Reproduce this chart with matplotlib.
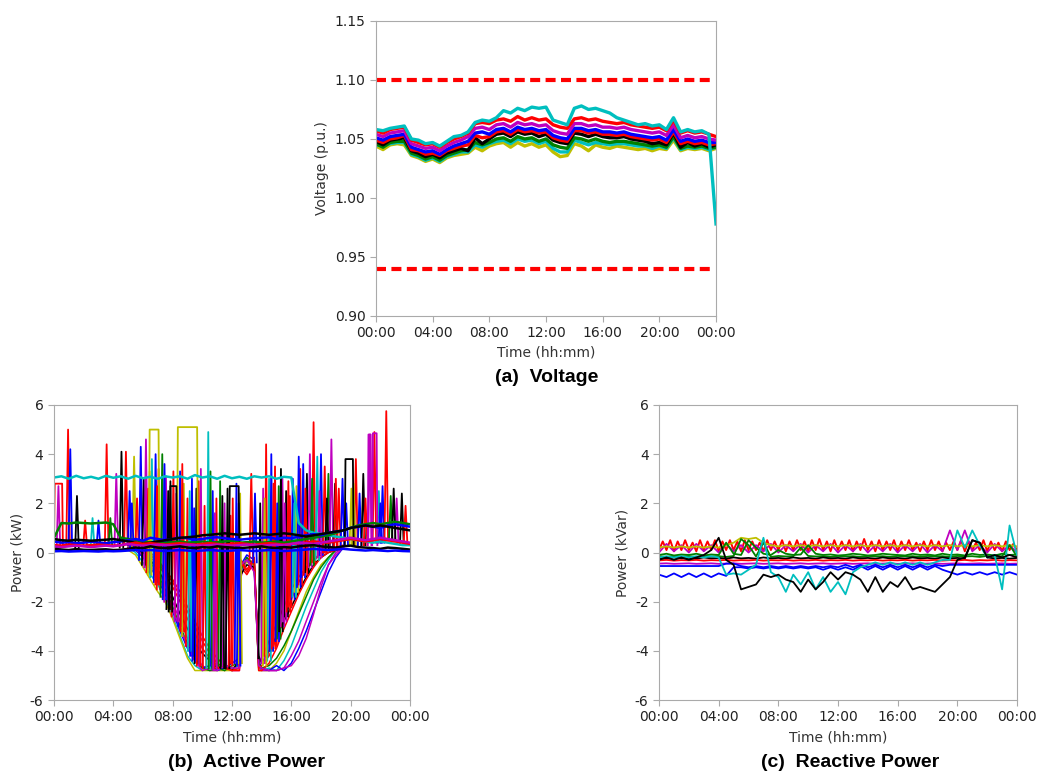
import numpy as np
import matplotlib
matplotlib.use('Agg')
import matplotlib.pyplot as plt
from matplotlib.ticker import FormatStrFormatter

# ---- common time axis ----
tick_hours = [0, 4, 8, 12, 16, 20, 24]
tick_labels = ['00:00', '04:00', '08:00', '12:00', '16:00', '20:00', '00:00']
half_hours = np.arange(0, 24.01, 0.5)      # 49 points
quarter_hours = np.arange(0, 24.01, 0.25)  # 97 points

# ---- (a) voltage, p.u. ----
v_limits = [1.10, 0.94]
volt_cyan = [1.058, 1.057, 1.059, 1.060, 1.061, 1.050, 1.049, 1.046, 1.047, 1.044, 1.048, 1.052,
             1.053, 1.056, 1.064, 1.066, 1.065, 1.068, 1.074, 1.072, 1.076, 1.074, 1.077, 1.076,
             1.077, 1.066, 1.064, 1.062, 1.076, 1.078, 1.075, 1.076, 1.074, 1.072, 1.068, 1.066,
             1.064, 1.062, 1.063, 1.061, 1.062, 1.058, 1.068, 1.056, 1.058, 1.056, 1.057, 1.054, 0.978]
volt_red = [1.057, 1.055, 1.058, 1.059, 1.060, 1.049, 1.047, 1.045, 1.046, 1.043, 1.047, 1.050,
            1.052, 1.055, 1.063, 1.064, 1.063, 1.066, 1.067, 1.065, 1.069, 1.066, 1.068, 1.066,
            1.067, 1.062, 1.060, 1.059, 1.067, 1.068, 1.066, 1.067, 1.065, 1.064, 1.063, 1.064,
            1.062, 1.061, 1.060, 1.059, 1.060, 1.057, 1.066, 1.055, 1.057, 1.055, 1.056, 1.054, 1.052]
volt_magenta = [1.054, 1.052, 1.055, 1.056, 1.057, 1.046, 1.044, 1.042, 1.043, 1.040, 1.044, 1.047,
                1.049, 1.052, 1.059, 1.060, 1.058, 1.062, 1.063, 1.060, 1.064, 1.062, 1.063, 1.061,
                1.062, 1.057, 1.055, 1.054, 1.063, 1.063, 1.061, 1.062, 1.060, 1.060, 1.059, 1.060,
                1.058, 1.057, 1.056, 1.055, 1.056, 1.053, 1.062, 1.051, 1.053, 1.051, 1.052, 1.050, 1.049]
volt_blue = [1.051, 1.049, 1.052, 1.053, 1.054, 1.043, 1.041, 1.039, 1.040, 1.037, 1.041, 1.044,
             1.046, 1.048, 1.055, 1.056, 1.054, 1.058, 1.059, 1.056, 1.060, 1.058, 1.059, 1.057,
             1.058, 1.053, 1.051, 1.050, 1.059, 1.059, 1.057, 1.058, 1.056, 1.056, 1.055, 1.056,
             1.054, 1.053, 1.052, 1.051, 1.052, 1.049, 1.058, 1.048, 1.050, 1.048, 1.049, 1.047, 1.047]
volt_red_low = [1.049, 1.047, 1.050, 1.051, 1.053, 1.041, 1.040, 1.037, 1.038, 1.036, 1.040, 1.042,
                1.044, 1.045, 1.053, 1.051, 1.052, 1.056, 1.057, 1.054, 1.058, 1.056, 1.057, 1.055,
                1.056, 1.051, 1.049, 1.048, 1.057, 1.057, 1.055, 1.056, 1.054, 1.054, 1.053, 1.054,
                1.052, 1.051, 1.050, 1.049, 1.050, 1.047, 1.056, 1.046, 1.048, 1.046, 1.047, 1.045, 1.046]
volt_black = [1.048, 1.045, 1.049, 1.050, 1.051, 1.040, 1.038, 1.035, 1.037, 1.034, 1.038, 1.040,
              1.042, 1.040, 1.051, 1.046, 1.050, 1.054, 1.055, 1.052, 1.056, 1.054, 1.055, 1.052,
              1.054, 1.049, 1.047, 1.046, 1.055, 1.054, 1.052, 1.054, 1.052, 1.051, 1.051, 1.052,
              1.050, 1.049, 1.048, 1.046, 1.047, 1.045, 1.055, 1.043, 1.047, 1.044, 1.046, 1.043, 1.045]
volt_green = [1.046, 1.043, 1.047, 1.048, 1.048, 1.038, 1.036, 1.033, 1.035, 1.032, 1.036, 1.038,
              1.040, 1.041, 1.047, 1.045, 1.047, 1.050, 1.051, 1.048, 1.052, 1.050, 1.051, 1.048,
              1.050, 1.045, 1.043, 1.042, 1.051, 1.050, 1.048, 1.050, 1.048, 1.047, 1.048, 1.048,
              1.047, 1.046, 1.045, 1.044, 1.045, 1.043, 1.052, 1.042, 1.044, 1.043, 1.044, 1.042, 1.043]
volt_cyan_low = [1.045, 1.044, 1.046, 1.047, 1.047, 1.037, 1.035, 1.032, 1.034, 1.031, 1.035, 1.037,
                 1.039, 1.039, 1.045, 1.043, 1.046, 1.048, 1.049, 1.046, 1.050, 1.048, 1.049, 1.046,
                 1.048, 1.042, 1.039, 1.039, 1.049, 1.047, 1.045, 1.047, 1.046, 1.045, 1.046, 1.046,
                 1.045, 1.044, 1.044, 1.042, 1.044, 1.042, 1.051, 1.041, 1.043, 1.042, 1.043, 1.041, 1.043]
volt_yellow = [1.044, 1.041, 1.045, 1.046, 1.045, 1.036, 1.034, 1.031, 1.033, 1.030, 1.034, 1.036,
               1.037, 1.038, 1.043, 1.040, 1.044, 1.046, 1.047, 1.043, 1.047, 1.044, 1.046, 1.043,
               1.045, 1.039, 1.035, 1.036, 1.046, 1.044, 1.040, 1.045, 1.043, 1.042, 1.044, 1.043,
               1.042, 1.041, 1.042, 1.040, 1.042, 1.041, 1.049, 1.040, 1.042, 1.041, 1.042, 1.040, 1.042]

# ---- (b) active power, kW ----
load_dense = [0.15, 0.12, 0.10, 0.14, 0.11, 0.10, 0.12, 0.13, 0.10, 0.11, 0.15, 0.20, 0.18,
              0.25, 0.20, 0.18, 0.22, 0.25, 0.20, 0.18, 0.22, 0.20, 0.25, 0.22, 0.20, 0.18,
              0.20, 0.22, 0.25, 0.20, 0.18, 0.22, 0.20, 0.25, 0.28, 0.30, 0.25, 0.22, 0.20,
              0.25, 0.28, 0.22, 0.20, 0.18, 0.15, 0.20, 0.18, 0.15, 0.12]
load_low = [0.05, 0.06, 0.04, 0.05, 0.06, 0.05, 0.04, 0.06, 0.05, 0.06, 0.08, 0.10, 0.08,
            0.10, 0.08, 0.06, 0.08, 0.10, 0.08, 0.06, 0.08, 0.10, 0.08, 0.06, 0.08, 0.10,
            0.08, 0.06, 0.08, 0.10, 0.08, 0.06, 0.08, 0.10, 0.12, 0.15, 0.12, 0.10, 0.12,
            0.15, 0.12, 0.10, 0.08, 0.10, 0.08, 0.06, 0.08, 0.06, 0.05]
load_blue = [0.45, 0.40, 0.42, 0.38, 0.40, 0.44, 0.40, 0.38, 0.42, 0.45, 0.50, 0.55, 0.48,
             0.60, 0.55, 0.50, 0.55, 0.60, 0.58, 0.52, 0.55, 0.60, 0.62, 0.58, 0.55, 0.52,
             0.55, 0.58, 0.60, 0.62, 0.55, 0.60, 0.58, 0.65, 0.70, 0.75, 0.70, 0.80, 0.85,
             0.90, 1.00, 1.05, 1.10, 1.05, 1.00, 1.10, 1.15, 1.10, 1.05]
load_green = [0.60, 1.20, 1.18, 1.22, 1.20, 1.18, 1.20, 1.22, 1.15, 0.60, 0.55, 0.50, 0.45,
              0.40, 0.45, 0.40, 0.42, 0.45, 0.40, 0.42, 0.45, 0.40, 0.42, 0.45, 0.48, 0.40,
              0.42, 0.45, 0.40, 0.42, 0.45, 0.40, 0.45, 0.50, 0.55, 0.60, 0.65, 0.70, 0.80,
              0.90, 1.00, 1.10, 1.15, 1.20, 1.15, 1.20, 1.25, 1.20, 1.15]
load_black = [0.55, 0.50, 0.48, 0.52, 0.50, 0.48, 0.50, 0.52, 0.55, 0.50, 0.45, 0.40, 0.35,
              0.40, 0.45, 0.50, 0.55, 0.60, 0.62, 0.65, 0.70, 0.72, 0.75, 0.78, 0.75, 0.72,
              0.75, 0.78, 0.75, 0.72, 0.75, 0.78, 0.75, 0.70, 0.65, 0.70, 0.75, 0.80, 0.85,
              0.90, 1.00, 1.05, 1.10, 1.05, 1.10, 1.05, 1.00, 0.95, 0.90]
load_red = [0.30, 0.28, 0.32, 0.30, 0.28, 0.30, 0.32, 0.30, 0.28, 0.30, 0.35, 0.40, 0.35,
            0.38, 0.35, 0.32, 0.35, 0.38, 0.35, 0.32, 0.35, 0.38, 0.35, 0.32, 0.35, 0.38,
            0.35, 0.32, 0.35, 0.38, 0.35, 0.32, 0.35, 0.38, 0.40, 0.45, 0.42, 0.40, 0.45,
            0.50, 0.55, 0.50, 0.45, 0.50, 0.55, 0.50, 0.45, 0.40, 0.35]
load_magenta = [0.25, 0.22, 0.25, 0.28, 0.25, 0.22, 0.25, 0.28, 0.25, 0.30, 0.35, 0.30, 0.28,
                0.30, 0.32, 0.30, 0.28, 0.30, 0.32, 0.30, 0.28, 0.30, 0.32, 0.30, 0.28, 0.30,
                0.32, 0.30, 0.28, 0.30, 0.32, 0.30, 0.35, 0.40, 0.38, 0.35, 0.40, 0.45, 0.50,
                0.55, 0.60, 0.55, 0.50, 0.55, 0.60, 0.55, 0.50, 0.45, 0.40]
load_teal = [3.05, 3.10, 3.00, 3.12, 3.02, 3.08, 3.00, 3.12, 3.04, 3.10, 3.00, 3.12, 3.02,
             3.08, 3.00, 3.10, 3.05, 3.10, 3.00, 3.15, 3.05, 3.10, 3.00, 3.12, 3.02, 3.08,
             3.00, 3.10, 3.05, 3.10, 3.00, 3.08, 3.05, 1.20, 0.90, 0.80, 0.75, 0.70, 0.65,
             0.60, 0.55, 0.50, 0.45, 0.40, 0.45, 0.40, 0.35, 0.30, 0.30]

solar_hours = [5.0, 5.5, 6.0, 6.5, 7.0, 7.5, 8.0, 8.5, 9.0, 9.5, 10.0, 10.5, 11.0, 11.5, 12.0, 12.5,
               12.6, 13.0, 13.5, 13.8, 14.0, 14.5, 15.0, 15.5, 16.0, 16.5, 17.0, 17.5, 18.0, 18.5, 19.0, 19.5]
solar_yellow = [0.1, -0.1, -0.6, -1.1, -1.6, -2.0, -2.7, -3.5, -4.3, -4.8, -4.8, -4.8, -4.8, -4.8, -4.8, -4.7,
                -0.6, -0.4, -0.5, -4.8, -4.8, -4.8, -4.5, -4.0, -3.2, -2.4, -1.6, -1.0, -0.5, -0.2, 0.1, 0.2]
solar_cyan = [0.2, 0.0, -0.4, -0.9, -1.3, -1.9, -2.6, -3.4, -4.2, -4.6, -4.8, -4.7, -4.6, -4.8, -4.7, -4.6,
              -0.8, -0.3, -0.6, -4.7, -4.8, -4.7, -4.8, -4.4, -3.8, -3.0, -2.2, -1.5, -0.8, -0.3, 0.1, 0.2]
solar_magenta = [0.2, 0.2, 0.0, -0.3, -0.8, -1.3, -2.0, -2.8, -3.5, -4.2, -4.6, -4.8, -4.8, -4.6, -4.8, -4.8,
                 -1.0, -0.2, -0.7, -4.6, -4.8, -4.8, -4.8, -4.7, -4.2, -3.6, -2.8, -2.0, -1.2, -0.5, 0.0, 0.2]
solar_blue = [0.3, 0.1, -0.2, -0.6, -1.1, -1.7, -2.4, -3.2, -3.9, -4.4, -4.7, -4.6, -4.8, -4.7, -4.5, -4.3,
              -0.5, -0.1, -0.3, -4.4, -4.7, -4.8, -4.6, -4.8, -4.5, -3.9, -3.2, -2.4, -1.6, -0.8, -0.2, 0.2]
solar_red = [0.2, 0.2, 0.1, -0.2, -0.5, -0.9, -1.4, -2.0, -2.7, -3.3, -3.9, -4.3, -4.6, -4.8, -4.7, -4.6,
             -0.6, -0.9, -0.4, -4.5, -4.3, -3.6, -2.9, -2.2, -1.5, -1.0, -0.6, -0.3, -0.1, 0.1, 0.2, 0.2]
solar_red2 = [0.3, 0.2, 0.1, 0.0, -0.3, -0.7, -1.1, -1.6, -2.2, -2.8, -3.4, -3.9, -4.3, -4.6, -4.8, -4.7,
              -0.4, -0.8, -0.3, -4.7, -4.6, -4.2, -3.5, -2.7, -1.9, -1.2, -0.7, -0.3, 0.0, 0.1, 0.2, 0.3]
solar_green = [0.2, 0.1, -0.1, -0.4, -0.9, -1.5, -2.2, -3.0, -3.7, -4.3, -4.7, -4.8, -4.7, -4.8, -4.6, -4.5,
               -0.7, -0.2, -0.5, -4.5, -4.7, -4.6, -4.3, -3.8, -3.2, -2.5, -1.8, -1.1, -0.6, -0.2, 0.1, 0.2]
solar_black = [0.2, 0.1, 0.0, -0.3, -0.7, -1.2, -1.8, -2.5, -3.1, -3.7, -4.1, -4.4, -4.7, -4.6, -4.8, -4.4,
               -0.9, -0.5, -0.6, -4.2, -4.5, -4.0, -3.4, -2.8, -2.2, -1.6, -1.0, -0.5, -0.2, 0.0, 0.1, 0.2]
solar_red3 = [0.2, 0.2, 0.1, -0.1, -0.4, -0.8, -1.2, -1.8, -2.4, -3.0, -3.6, -4.1, -4.5, -4.7, -4.8, -4.8,
              -0.3, -0.7, -0.2, -4.8, -4.8, -4.5, -3.9, -3.1, -2.4, -1.7, -1.1, -0.6, -0.2, 0.0, 0.1, 0.2]
solar_purple = [0.2, 0.1, -0.1, -0.5, -1.0, -1.6, -2.3, -3.1, -3.8, -4.4, -4.8, -4.7, -4.8, -4.6, -4.7, -4.7,
                -0.5, -0.3, -0.8, -4.6, -4.7, -4.8, -4.8, -4.7, -4.6, -4.2, -3.5, -2.5, -1.4, -0.5, -0.1, 0.2]

# short load events: hour, starting level, peak level (kW)
spike_hours = [0.95, 1.1, 1.55, 0.3, 2.1, 2.6, 3.0, 3.55, 3.8, 4.2, 4.55, 4.85, 5.1, 5.4, 5.6, 5.85,
               6.05, 6.2, 6.35, 6.6, 6.85, 7.05, 7.3, 7.55, 7.7, 8.05, 8.5, 8.75, 9.0, 9.3, 9.6, 9.9,
               10.15, 10.4, 10.7, 10.95, 11.2, 11.5, 11.7, 12.05, 12.3, 12.55, 13.3, 13.55, 13.9, 14.1,
               14.3, 14.5, 14.65, 14.9, 15.15, 15.4, 15.65, 15.9, 16.1, 16.35, 16.6, 16.8, 17.05, 17.25,
               17.5, 17.75, 18.0, 18.25, 18.5, 18.7, 18.95, 19.2, 19.45, 20.05, 20.35, 20.6, 20.85, 21.3,
               21.6, 21.9, 22.15, 22.4, 22.7, 23.1, 23.45, 23.7,
               5.25, 6.45, 6.95, 7.45, 7.85, 8.25, 8.65, 9.15, 9.45, 9.75, 10.55, 10.85, 11.35, 11.9,
               12.45, 14.2, 14.8, 15.05, 15.3, 15.55, 15.8, 16.2, 16.5, 16.95, 17.4, 17.9, 18.4, 19.0,
               19.7, 20.2, 21.0, 22.0, 22.9]
spike_bases = [0.3, 0.3, 0.2, 0.2, 0.3, 0.3, 0.3, 0.3, 0.3, 0.3, 0.2, 0.3, 0.3, 0.2, 0.1, -0.3,
               -0.5, -0.6, -0.8, -1.0, -1.2, -1.5, -1.8, -2.0, -2.3, -2.6, -3.0, -3.4, -3.8, -4.2, -4.5, -4.6,
               -4.7, -4.7, -4.6, -4.7, -4.6, -4.6, -4.7, -4.5, -4.5, -4.5, -0.3, -0.4, -4.3, -4.5,
               -4.2, -4.4, -4.0, -3.8, -3.5, -3.0, -2.6, -2.2, -1.9, -1.6, -1.3, -1.0, -0.8, -0.6,
               -0.4, -0.3, -0.1, 0.0, 0.2, 0.2, 0.2, 0.3, 0.3, 0.3, 0.3, 0.3, 0.3, 0.4,
               0.4, 0.4, 0.4, 0.5, 0.5, 0.5, 0.4, 0.4,
               0.2, -0.9, -1.3, -1.9, -2.4, -2.8, -3.2, -4.0, -4.4, -4.6, -4.7, -4.7, -4.7, -4.6,
               -4.6, -4.6, -3.9, -3.6, -3.2, -2.8, -2.4, -1.8, -1.4, -0.9, -0.5, -0.2, 0.1, 0.2,
               0.3, 0.3, 0.3, 0.4, 0.5]
spike_peaks = [5.0, 4.2, 2.3, 2.7, 1.3, 1.4, 1.3, 4.4, 1.4, 3.2, 4.1, 4.1, 2.5, 3.9, 2.2, 4.3,
               3.0, 4.6, 2.6, 3.8, 4.0, 3.4, 4.0, 3.1, 2.5, 3.3, 3.3, 2.8, 2.2, 3.0, 2.6, 3.4,
               1.9, 4.9, 2.5, 2.2, 2.9, 2.0, 2.6, 2.2, 2.8, 2.4, 3.2, 2.4, 2.0, 2.6,
               4.4, 3.0, 4.0, 3.5, 2.7, 3.0, 2.5, 2.3, 3.0, 2.7, 3.4, 3.6, 3.2, 4.0,
               5.3, 3.9, 4.0, 3.5, 3.2, 4.6, 2.8, 2.6, 3.0, 2.6, 3.8, 2.4, 3.2, 4.8,
               4.9, 2.5, 2.7, 5.75, 2.3, 2.2, 2.4, 1.9,
               2.0, 3.3, 2.7, 3.6, 2.9, 2.4, 3.6, 2.5, 1.8, 2.9, 3.3, 1.6, 2.3, 1.5,
               2.0, 2.2, 2.8, 2.0, 3.4, 2.0, 2.9, 2.0, 3.9, 2.6, 3.0, 2.5, 2.2, 3.0,
               2.0, 2.8, 2.2, 2.0, 2.6]
# longer flat-topped loads: start, end, level (kW)
block_starts = [0.0, 6.4, 8.3, 7.8, 11.8, 19.6, 21.15, 21.45]
block_ends = [0.6, 7.1, 9.7, 8.3, 12.5, 20.2, 21.4, 21.8]
block_levels = [2.8, 5.0, 5.1, 2.7, 2.7, 3.8, 4.8, 4.85]

# ---- (c) reactive power, kVar ----
q_red_zig = [0.10, 0.45, 0.10, 0.50, 0.05, 0.45, 0.10, 0.50, 0.10, 0.40, 0.05, 0.50, 0.10, 0.45, 0.10, 0.50,
             0.05, 0.45, 0.10, 0.50, 0.10, 0.45, 0.05, 0.50, 0.10, 0.45, 0.10, 0.40, 0.05, 0.50, 0.10, 0.45,
             0.10, 0.50, 0.05, 0.45, 0.10, 0.50, 0.10, 0.45, 0.05, 0.50, 0.10, 0.55, 0.10, 0.45, 0.05, 0.50,
             0.10, 0.45, 0.10, 0.50, 0.05, 0.45, 0.10, 0.55, 0.10, 0.45, 0.05, 0.50, 0.10, 0.45, 0.10, 0.50,
             0.05, 0.45, 0.10, 0.50, 0.10, 0.40, 0.05, 0.45, 0.10, 0.50, 0.10, 0.45, 0.05, 0.40, 0.10, 0.45,
             0.10, 0.50, 0.05, 0.45, 0.10, 0.40, 0.10, 0.50, 0.05, 0.45, 0.10, 0.40, 0.05, 0.45, 0.10, 0.35, 0.10]
q_magenta_zig = [0.00, 0.35, 0.05, 0.30, 0.00, 0.35, 0.05, 0.30, 0.00, 0.35, 0.05, 0.30, 0.00, 0.30, 0.05,
                 0.35, 0.00, 0.30, 0.05, 0.35, 0.00, 0.30, 0.05, 0.35, 0.00, 0.30, 0.05, 0.35, 0.00, 0.30,
                 0.05, 0.35, 0.00, 0.30, 0.05, 0.35, 0.00, 0.30, 0.05, 0.90, 0.10, 0.90, 0.05, 0.30, 0.00,
                 0.35, 0.05, 0.30, 0.00]
q_green = [-0.10, -0.05, -0.12, -0.08, -0.10, -0.05, -0.12, -0.08, -0.10, 0.40, -0.05, -0.10, 0.50, 0.20,
           -0.05, -0.10, 0.10, -0.05, -0.10, -0.08, 0.30, -0.05, -0.10, -0.08, -0.12, -0.10, -0.05, -0.08,
           -0.12, -0.10, -0.05, -0.08, -0.10, -0.12, -0.05, -0.10, -0.08, -0.12, -0.05, -0.10, -0.08,
           -0.12, -0.05, -0.10, -0.08, -0.12, -0.05, -0.10, -0.08]
q_black_base = [-0.22, -0.25, -0.20, -0.24, -0.22, -0.25, -0.20, -0.24, -0.22, -0.25, -0.20, -0.24,
                -0.22, -0.25, -0.20, -0.24, -0.22, -0.25, -0.20, -0.24, -0.22, -0.25, -0.20, -0.24,
                -0.22, -0.25, -0.20, -0.24, -0.22, -0.25, -0.20, -0.24, -0.22, -0.25, -0.20, -0.24,
                -0.22, -0.25, -0.20, -0.24, -0.22, -0.25, 0.50, 0.40, -0.20, -0.24, -0.22, -0.25, -0.22]
q_red_flat = [-0.32, -0.30, -0.33, -0.31, -0.32, -0.30, -0.33, -0.31, -0.32, -0.30, -0.33, -0.31,
              -0.32, -0.30, -0.33, -0.31, -0.32, -0.30, -0.33, -0.31, -0.32, -0.30, -0.33, -0.31,
              -0.32, -0.30, -0.33, -0.31, -0.32, -0.30, -0.33, -0.31, -0.32, -0.30, -0.33, -0.31,
              -0.32, -0.30, -0.33, -0.31, -0.32, -0.30, -0.33, -0.31, -0.32, -0.30, -0.33, -0.31, -0.32]
q_dkgreen = [-0.15, -0.18, -0.14, -0.16, -0.15, -0.18, -0.14, -0.16, -0.15, -0.18, -0.14, 0.55,
             0.30, -0.16, 0.40, -0.18, -0.14, -0.16, -0.15, 0.20, -0.14, -0.16, -0.15, -0.18,
             -0.14, -0.16, -0.15, -0.18, -0.14, -0.16, -0.15, -0.18, -0.14, -0.16, -0.15, -0.18,
             -0.14, -0.16, -0.15, -0.18, -0.14, -0.16, -0.15, -0.18, -0.14, -0.16, -0.15, 0.30, -0.16]
q_magenta_flat = [-0.45, -0.44, -0.46, -0.45, -0.44, -0.46, -0.45, -0.44, -0.46, -0.45, -0.44, -0.46,
                  -0.45, -0.44, -0.46, -0.45, -0.44, -0.46, -0.45, -0.44, -0.46, -0.45, -0.44, -0.46,
                  -0.45, -0.44, -0.46, -0.45, -0.44, -0.46, -0.45, -0.44, -0.46, -0.45, -0.44, -0.46,
                  -0.45, -0.44, -0.46, -0.45, -0.44, -0.46, -0.45, -0.44, -0.46, -0.45, -0.44, -0.46, -0.45]
q_blue_mid = [-0.55, -0.55, -0.55, -0.55, -0.55, -0.55, -0.55, -0.55, -0.55, -0.45, -0.45, -0.55,
              -0.60, -0.55, -0.60, -0.55, -0.60, -0.55, -0.60, -0.55, -0.60, -0.55, -0.60, -0.55,
              -0.60, -0.50, -0.60, -0.50, -0.60, -0.50, -0.60, -0.50, -0.60, -0.50, -0.60, -0.50,
              -0.60, -0.50, -0.55, -0.50, -0.50, -0.50, -0.50, -0.50, -0.50, -0.50, -0.50, -0.50, -0.50]
q_blue_low = [-0.90, -1.00, -0.85, -1.00, -0.85, -1.00, -0.85, -1.00, -0.85, -0.95, -0.60, -0.60,
              -0.65, -0.60, -0.65, -0.60, -0.65, -0.60, -0.65, -0.60, -0.65, -0.60, -0.70, -0.60,
              -0.70, -0.60, -0.70, -0.55, -0.70, -0.55, -0.70, -0.55, -0.70, -0.55, -0.70, -0.55,
              -0.70, -0.55, -0.70, -0.80, -0.90, -0.80, -0.90, -0.80, -0.90, -0.80, -0.90, -0.80, -0.90]
q_black_dip = [-0.30, -0.20, -0.30, -0.20, -0.30, -0.20, -0.10, 0.10, 0.60, -0.30, -0.50, -1.50,
               -1.40, -1.30, -0.90, -1.00, -0.90, -1.10, -1.20, -1.60, -1.10, -1.50, -1.20, -0.80,
               -1.10, -0.80, -0.90, -1.10, -1.60, -1.00, -1.60, -1.20, -1.40, -1.00, -1.50, -1.40,
               -1.50, -1.60, -1.30, -1.00, -0.30, -0.20, 0.50, 0.40, -0.20, -0.10, -0.20, -0.10, -0.20]
q_cyan_dip = [-0.20, -0.15, -0.20, -0.15, -0.20, -0.15, -0.20, -0.15, -0.20, -0.90, -0.85, -0.90,
              -0.70, -0.50, 0.60, -0.80, -1.00, -1.60, -0.90, -1.30, -0.80, -1.50, -1.00, -1.60,
              -1.20, -1.70, -0.80, -0.60, -0.50, -0.40, -0.50, -0.40, -0.50, -0.40, -0.50, -0.40,
              -0.50, -0.40, -0.30, -0.30, 0.90, 0.20, 0.90, 0.30, -0.20, -0.10, -1.50, 1.10, -0.10]
q_yellow = [0.20, 0.25, 0.20, 0.25, 0.20, 0.25, 0.20, 0.25, 0.20, 0.30, 0.40, 0.60, 0.55, 0.60,
            0.40, 0.30, 0.25, 0.30, 0.25, 0.30, 0.25, 0.30, 0.25, 0.30, 0.25, 0.30, 0.25, 0.30,
            0.25, 0.30, 0.25, 0.30, 0.25, 0.30, 0.25, 0.30, 0.25, 0.30, 0.25, 0.30, 0.25, 0.30,
            0.25, 0.30, 0.25, 0.30, 0.25, 0.30, 0.25]

plt.rcParams['axes.unicode_minus'] = False
plt.rcParams['font.family'] = ['DejaVu Sans']

# classic matplotlib colours
C = {'b': (0, 0, 1), 'g': (0, 0.5, 0), 'r': (1, 0, 0), 'c': (0, 0.75, 0.75),
     'm': (0.75, 0, 0.75), 'y': (0.75, 0.75, 0), 'k': (0, 0, 0)}
spike_cycle = ['r', 'b', 'k', 'm', 'r', 'c', 'b', 'r', 'g', 'm', 'k', 'r', 'b', 'y']

fig = plt.figure(figsize=(10.38, 7.76), dpi=100)
ax_v = fig.add_axes([0.3622, 0.5928, 0.3276, 0.3802])
ax_p = fig.add_axes([0.0520, 0.0979, 0.3430, 0.3802])
ax_q = fig.add_axes([0.6349, 0.0979, 0.3449, 0.3802])


def style_axes(ax, ylabel):
    for s in ax.spines.values():
        s.set_color('#aaaaaa')
    ax.tick_params(direction='out', color='#aaaaaa', labelsize=10, labelcolor='#222222', length=4)
    ax.set_xlim(0, 24)
    ax.set_xticks(tick_hours)
    ax.set_xticklabels(tick_labels)
    ax.set_xlabel('Time (hh:mm)', fontsize=10, color='#333333', labelpad=4)
    ax.set_ylabel(ylabel, fontsize=10, color='#333333')


# (a) voltage
for name, series in [('y', volt_yellow), ('c', volt_cyan_low), ('g', volt_green), ('k', volt_black),
                     ('r', volt_red_low), ('b', volt_blue), ('m', volt_magenta), ('r', volt_red),
                     ('c', volt_cyan)]:
    ax_v.plot(half_hours, series, color=C[name], lw=2.4)
for lim in v_limits:
    ax_v.axhline(lim, color='red', lw=3, linestyle=(0, (2.4, 1.3)), xmax=0.995)
ax_v.set_ylim(0.90, 1.15)
ax_v.set_yticks([0.90, 0.95, 1.00, 1.05, 1.10, 1.15])
ax_v.yaxis.set_major_formatter(FormatStrFormatter('%.2f'))
style_axes(ax_v, 'Voltage (p.u.)')

# (b) active power
for name, series in [('r', solar_red), ('c', solar_cyan), ('y', solar_yellow), ('m', solar_magenta),
                     ('b', solar_blue), ('g', solar_green), ('k', solar_black), ('r', solar_red2),
                     ('r', solar_red3), ('m', solar_purple)]:
    ax_p.plot(solar_hours, series, color=C[name], lw=1.1)
for i in range(len(spike_hours)):
    h = spike_hours[i]
    ax_p.plot([h - 0.12, h, h + 0.12], [spike_bases[i], spike_peaks[i], spike_bases[i]],
              color=C[spike_cycle[i % len(spike_cycle)]], lw=1.3)
block_cycle = ['r', 'y', 'y', 'k', 'k', 'k', 'm', 'm']
for i in range(len(block_starts)):
    a, b = block_starts[i], block_ends[i]
    ax_p.plot([a, a + 0.05, b - 0.05, b], [0.3, block_levels[i], block_levels[i], 0.3],
              color=C[block_cycle[i]], lw=1.3)
for name, series in [('c', load_teal), ('g', load_green), ('b', load_blue), ('k', load_black),
                     ('r', load_red), ('m', load_magenta), ('k', load_dense), ('b', load_low)]:
    ax_p.plot(half_hours, series, color=C[name], lw=1.8)
ax_p.set_ylim(-6, 6)
ax_p.set_yticks([-6, -4, -2, 0, 2, 4, 6])
style_axes(ax_p, 'Power (kW)')

# (c) reactive power
ax_q.plot(quarter_hours, q_red_zig, color=C['r'], lw=1.4)
for name, series in [('m', q_magenta_zig), ('y', q_yellow), ('g', q_green), ('g', q_dkgreen),
                     ('k', q_black_base), ('r', q_red_flat), ('m', q_magenta_flat), ('b', q_blue_mid),
                     ('b', q_blue_low), ('c', q_cyan_dip), ('k', q_black_dip)]:
    ax_q.plot(half_hours, series, color=C[name], lw=1.3)
ax_q.set_ylim(-6, 6)
ax_q.set_yticks([-6, -4, -2, 0, 2, 4, 6])
style_axes(ax_q, 'Power (kVar)')

title_font = dict(fontsize=14, fontweight='bold', family='Liberation Sans', ha='center', va='center')
fig.text(0.527, 0.513, '(a)  Voltage', **title_font)
fig.text(0.237, 0.017, '(b)  Active Power', **title_font)
fig.text(0.819, 0.017, '(c)  Reactive Power', **title_font)

fig.savefig('out.png', dpi=100)
